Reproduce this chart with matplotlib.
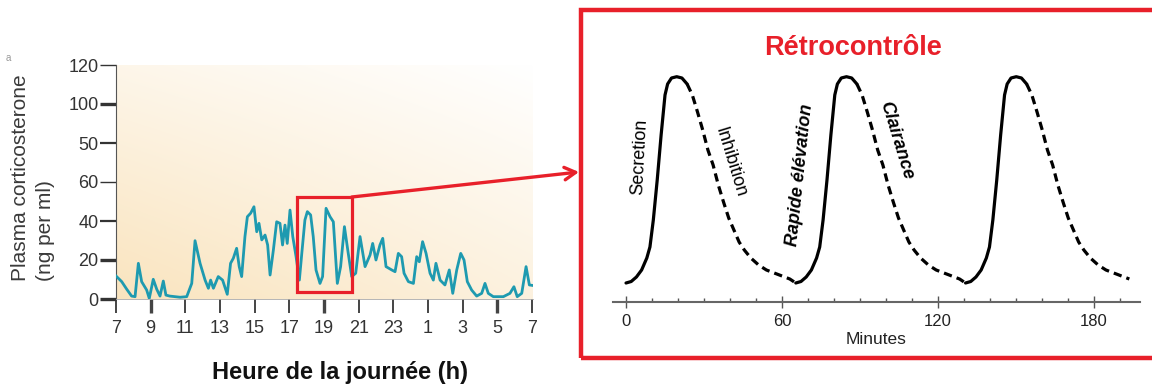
import numpy as np
import matplotlib
matplotlib.use("Agg")
import matplotlib.pyplot as plt
from matplotlib.patches import Rectangle
from matplotlib.ticker import MultipleLocator

plt.rcParams['font.family'] = ['Liberation Sans', 'DejaVu Sans']

# ---- left panel: plasma corticosterone over 24 h ----
hours = [7.0, 7.33, 7.62, 7.9, 8.1, 8.29, 8.48, 8.77, 8.92, 9.15, 9.35, 9.54, 9.73,
         9.88, 10.1, 10.7, 11.08, 11.37, 11.56, 11.85, 12.14, 12.33, 12.46, 12.62,
         12.9, 13.15, 13.42, 13.61, 13.77, 13.96, 14.11, 14.25, 14.44, 14.58, 14.77,
         14.96, 15.12, 15.25, 15.41, 15.6, 15.75, 15.89, 16.08, 16.27, 16.46, 16.61,
         16.75, 16.88, 17.04, 17.2, 17.39, 17.58, 17.72, 17.9, 18.04, 18.23, 18.38,
         18.54, 18.77, 18.92, 19.12, 19.35, 19.54, 19.77, 19.96, 20.18, 20.4, 20.6,
         20.83, 21.08, 21.37, 21.66, 21.81, 22.0, 22.23, 22.39, 22.58, 22.91, 23.1,
         23.29, 23.48, 23.62, 23.87, 24.16, 24.35, 24.5, 24.69, 24.89, 25.12, 25.31,
         25.46, 25.7, 25.98, 26.23, 26.43, 26.66, 26.89, 27.08, 27.27, 27.52, 27.81,
         28.1, 28.29, 28.48, 28.77, 29.35, 29.73, 29.96, 30.15, 30.41, 30.66, 30.85, 31.0]
cort = [11.8, 8.9, 5, 1.5, 1.2, 18.3, 8.9, 4.6, 0.3, 10.1, 5, 1.5, 9.2, 2, 1.5, 0.9,
        1.2, 8, 29.9, 18.3, 9.7, 5.5, 9.7, 5.5, 11.5, 9.7, 2.4, 18.3, 20.9, 26, 16.6,
        11.5, 32, 42.2, 44, 47.3, 34.5, 38.8, 30.3, 32.8, 27.7, 12.3, 25.1, 39.6, 38.8,
        27.7, 37.9, 28.5, 45.6, 32, 21.7, 9.7, 23.4, 40.5, 44.8, 43.1, 32, 14.9, 8,
        11.5, 46.5, 42.2, 39.6, 8, 16.6, 37.1, 23.4, 11.5, 13.2, 32, 16.6, 22.6, 28.5,
        20, 27.7, 31.1, 16.6, 14.9, 14, 23.4, 21.7, 13.2, 8.9, 8, 21.7, 19.1, 29.4,
        23.4, 13.2, 9.7, 18.3, 9.7, 7.2, 14.9, 2.9, 14.9, 23.4, 20, 8.9, 4.6, 1.5,
        2.9, 8, 2.9, 1.2, 1.2, 2.9, 6.3, 1.2, 2.9, 16.6, 7.2, 7]
hour_ticks = [7, 9, 11, 13, 15, 17, 19, 21, 23, 25, 27, 29, 31]
hour_labels = ['7', '9', '11', '13', '15', '17', '19', '21', '23', '1', '3', '5', '7']
cort_ticks = [0, 20, 40, 60, 80, 100, 120]
cort_labels = ['0', '20', '40', '60', '50', '100', '120']

# ---- right panel: one pulse profile (minutes from trough, level) ----
rise_min = [0, 2, 4, 6, 8, 9.2, 10.5, 12, 13.5, 15, 16, 17.5, 19.5, 21.5, 23.5]
rise_lvl = [18.7, 20.2, 24.7, 31.7, 43.7, 54.7, 81.7, 121.7, 166.7, 206.7, 217.7,
            223.7, 225, 223.7, 217.7]
fall_min = [23.5, 25.5, 27.5, 29.5, 31.5, 33.5, 35.5, 37.5, 39.5, 41.5, 43.5, 45.5,
            48, 51, 54, 57, 60, 63, 65.3]
fall_lvl = [217.7, 206.7, 189.7, 171.7, 151.7, 136.7, 116.7, 99.7, 83.7, 71.7, 59.7,
            51.7, 43.7, 36.7, 31.7, 28.7, 25.7, 22.7, 18.7]
pulse_starts = [0, 65.3, 130.6]
last_minute = 194.5
minute_ticks = [0, 60, 120, 180]

RED = '#e8202a'
TEAL = '#1e9ab0'
W, H = 1152, 387


def fx(px):
    return px / W


def fy(py):
    return 1 - py / H


fig = plt.figure(figsize=(11.52, 3.87), dpi=100)

# left axes
ax1 = fig.add_axes([fx(116), fy(299), fx(533) - fx(116), fy(65) - fy(299)])
ax1.set_xlim(7, 31.06)
ax1.set_ylim(0, 120)

# warm background gradient
yy, xx = np.mgrid[0:1:200j, 0:1:200j]
w = 0.45 * (1 - yy) + 0.3 * (1 - xx) + 0.15 * (1 - xx) * (1 - yy)
base = np.array([0.976, 0.882, 0.718])
img = 1 - w[..., None] * (1 - base)
ax1.imshow(img, extent=(7, 31.06, 0, 120), origin='lower', aspect='auto', zorder=0)

ax1.plot(hours, cort, color=TEAL, lw=2.0, zorder=3, solid_joinstyle='round')

ax1.set_xticks(hour_ticks)
ax1.set_xticklabels(hour_labels, family=['Liberation Sans Narrow', 'Liberation Sans'])
ax1.set_yticks(cort_ticks)
ax1.set_yticklabels(cort_labels, family=['Liberation Sans Narrow', 'Liberation Sans'])
ax1.tick_params(axis='x', direction='out', length=10, width=1.6, color='#444',
                pad=5, labelsize=13, labelcolor='#333')
ax1.tick_params(axis='y', direction='out', length=11.5, width=1.6, color='#333',
                pad=1, labelsize=13, labelcolor='#333')
for i, t in enumerate(ax1.xaxis.get_major_ticks()):
    t.tick1line.set_markeredgewidth(2.4 if hour_labels[i] in ('9', '19', '5') else 1.4)
for t, lw in zip(ax1.yaxis.get_major_ticks(), [2.4, 2.4, 1.6, 1.0, 1.6, 2.4, 1.0]):
    t.tick1line.set_markeredgewidth(lw)
for s in ('top', 'right'):
    ax1.spines[s].set_visible(False)
ax1.spines['left'].set_color('#555')
ax1.spines['left'].set_linewidth(0.8)
ax1.spines['bottom'].set_color('#aaa')
ax1.spines['bottom'].set_linewidth(0.6)

# zoom window + arrow
ax1.add_patch(Rectangle((17.45, 3.6), 3.15, 48.7, fill=False, ec=RED, lw=2.3, zorder=4))
ax1.annotate('', xy=(fx(579), fy(172)), xycoords='figure fraction',
             xytext=(20.6, 52.3), textcoords='data', annotation_clip=False,
             arrowprops=dict(arrowstyle='->, head_length=0.8, head_width=0.45',
                             color=RED, lw=2.4, shrinkA=0, shrinkB=0))

fig.text(fx(33), fy(178), 'Plasma corticosterone\n(ng per ml)', rotation=90,
         ha='center', va='center', multialignment='left', fontsize=15,
         color='#3a3a3a', linespacing=1.35)
fig.text(fx(340), fy(373), 'Heure de la journée (h)', ha='center', va='center',
         fontsize=17, fontweight='bold', color='#111')
fig.text(fx(8), fy(58), 'a', ha='center', va='center', fontsize=7, color='#999')

# right panel frame
fig.add_artist(Rectangle((fx(581), fy(358)), fx(1170) - fx(581), fy(10) - fy(358),
                         transform=fig.transFigure, fill=False, ec=RED, lw=3.2))
fig.text(fx(853), fy(48), 'Rétrocontrôle', ha='center', va='center',
         fontsize=19.5, fontweight='bold', color=RED)

ax2 = fig.add_axes([fx(612.5), fy(301.7), fx(1140) - fx(612.5), fy(20) - fy(301.7)])
ax2.set_xlim(-5.2, 197.7)
ax2.set_ylim(0, 281.7)
ax2.patch.set_alpha(0)
for s in ('top', 'right', 'left'):
    ax2.spines[s].set_visible(False)
ax2.spines['bottom'].set_color('#666')
ax2.spines['bottom'].set_linewidth(1.5)
ax2.set_yticks([])
ax2.set_xticks(minute_ticks)
ax2.xaxis.set_minor_locator(MultipleLocator(10))
ax2.tick_params(axis='x', which='major', direction='inout', length=8, width=1,
                color='#555', labelsize=12, labelcolor='#222', pad=5)
ax2.tick_params(axis='x', which='minor', direction='in', length=3, width=1, color='#555')
ax2.set_xlabel('Minutes', fontsize=12.5, color='#222', labelpad=2)

for start in pulse_starts:
    rt = np.array(rise_min) + start
    ax2.plot(rt, rise_lvl, color='black', lw=2.3, solid_capstyle='round',
             solid_joinstyle='round')
    ft = np.array(fall_min) + start
    keep = ft <= last_minute
    ax2.plot(ft[keep], np.array(fall_lvl)[keep], color='black', lw=2.3,
             dashes=(2.6, 1.6))

ax2.text(5.4, 144.7, 'Secretion', rotation=87, ha='center', va='center',
         fontsize=13, rotation_mode='anchor')
ax2.text(40, 139.7, 'Inhibition', rotation=-73, ha='center', va='center',
         fontsize=13, rotation_mode='anchor')
ax2.text(66.9, 126.7, 'Rapide élévation', rotation=84, ha='center', va='center',
         fontsize=13, fontweight='bold', fontstyle='italic', rotation_mode='anchor')
ax2.text(103.8, 161.7, 'Clairance', rotation=-73, ha='center', va='center',
         fontsize=13, fontweight='bold', fontstyle='italic', rotation_mode='anchor')

fig.savefig('out.png', dpi=100)
